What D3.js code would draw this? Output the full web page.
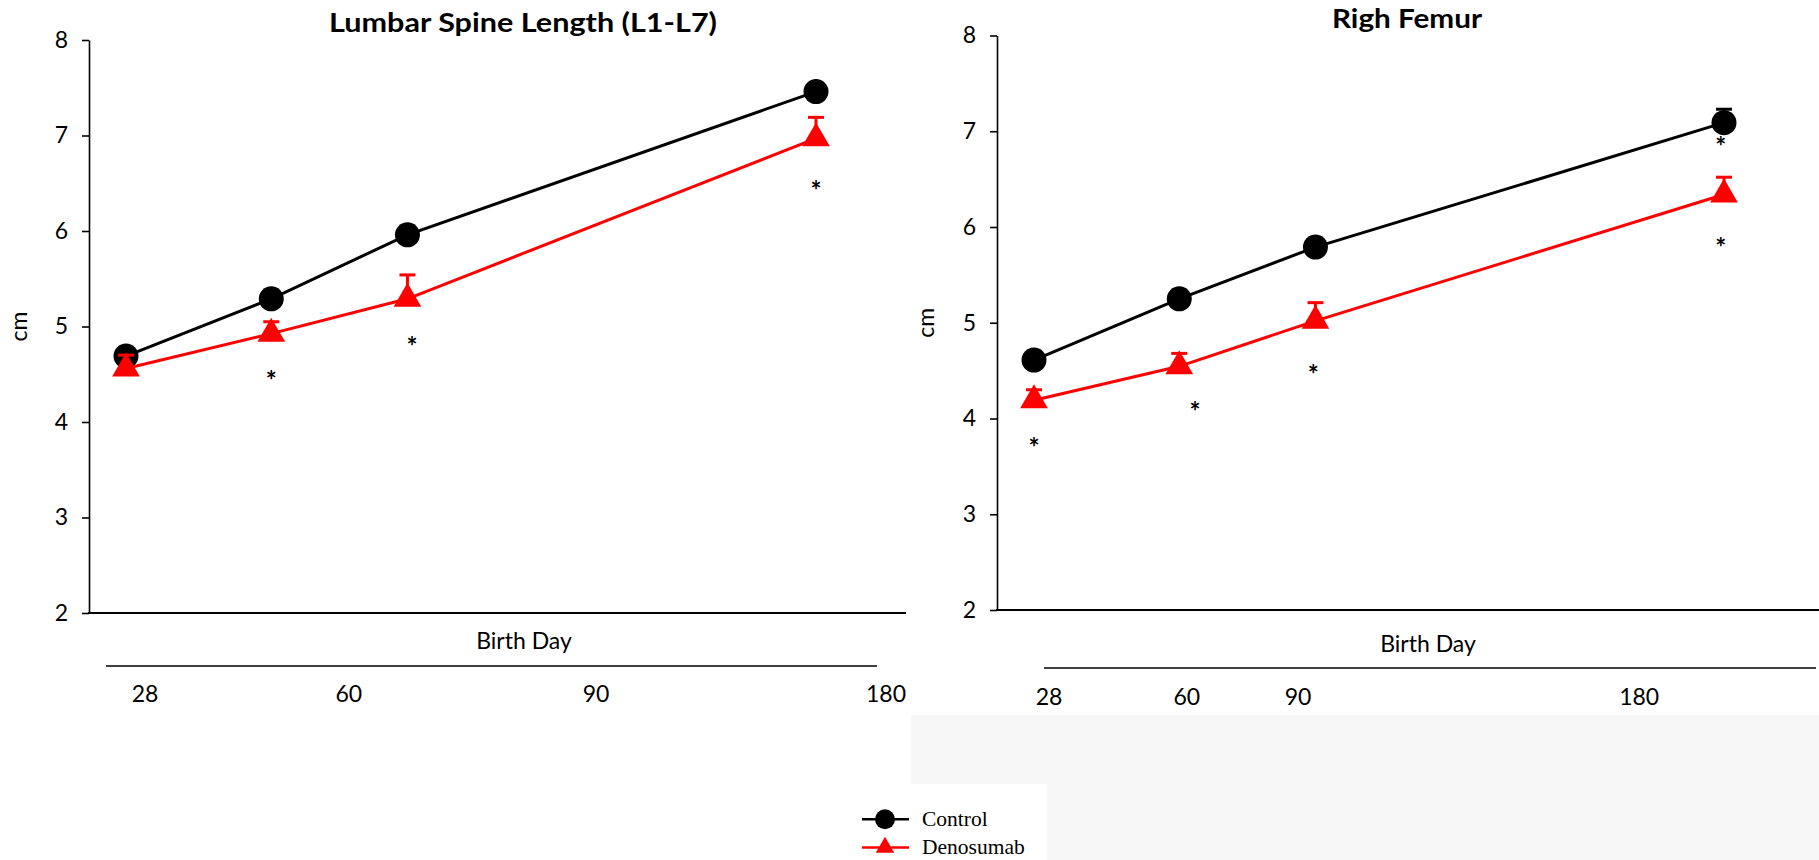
<!DOCTYPE html>
<html><head><meta charset="utf-8">
<script src="https://cdn.jsdelivr.net/npm/d3@7"></script>
<style>body{margin:0;background:#fff}svg{display:block}</style>
</head><body><svg id="c" width="1819" height="860"></svg>
<script>
// ---------- data ----------
const days = [28, 60, 90, 180];
const dayLabels = ["28", "60", "90", "180"];
const yTicks = [2, 3, 4, 5, 6, 7, 8];
const seriesNames = ["Control", "Denosumab"];

const spineTitle = "Lumbar Spine Length (L1-L7)";
const spineControl = [4.69, 5.29, 5.96, 7.46];
const spineControlSE = [0.05, 0.05, 0.05, 0.05];
const spineDeno = [4.56, 4.925, 5.29, 6.97];
const spineDenoSE = [0.14, 0.125, 0.25, 0.22];
const spineStarDays = [60, 91, 180];
const spineStarValues = [4.49, 4.85, 6.48];

const femurTitle = "Righ Femur";
const femurControl = [4.61, 5.25, 5.79, 7.09];
const femurControlSE = [0.05, 0.05, 0.05, 0.14];
const femurDeno = [4.19, 4.545, 5.02, 6.34];
const femurDenoSE = [0.11, 0.135, 0.19, 0.18];
const femurStarDays = [28, 63.5, 89.5, 179.3, 179.3];
const femurStarValues = [3.75, 4.13, 4.52, 6.90, 5.84];

// ---------- drawing ----------
const svg = d3.select("#c");
const SANS = "Lato, 'Open Sans', sans-serif";
const SERIF = "'Liberation Serif', 'Times New Roman', serif";
const RED = "#ff0000";

// background panel and legend box
svg.append("rect").attr("x", 911).attr("y", 715).attr("width", 908).attr("height", 145).attr("fill", "#f7f7f7");
svg.append("rect").attr("x", 911).attr("y", 784).attr("width", 136).attr("height", 76).attr("fill", "#fff");

function panel(cfg) {
  const g = svg.append("g");
  const y = d3.scaleLinear().domain([2, 8]).range([cfg.yBottom, cfg.yTop]);
  const x = d3.scaleLinear().domain([28, 180]).range([cfg.axisX + 37, cfg.axisX + 727]);

  // title
  g.append("text").attr("x", cfg.titleX).attr("y", cfg.titleY)
    .attr("text-anchor", "middle").attr("font-family", SANS).attr("font-weight", "bold")
    .attr("font-size", 26.5).attr("fill", "#000")
    .attr("textLength", cfg.titleW).attr("lengthAdjust", "spacingAndGlyphs").text(cfg.title);

  // y axis
  const ya = g.append("g").attr("transform", `translate(${cfg.axisX},0)`)
    .call(d3.axisLeft(y).tickValues(yTicks).tickFormat(d3.format("d")).tickSize(7).tickSizeOuter(0).tickPadding(14));
  ya.selectAll("path,line").attr("stroke", "#000").attr("stroke-width", 1.6);
  ya.selectAll("text").attr("font-family", SANS).attr("font-size", 23).attr("fill", "#000");

  // bottom axis line
  g.append("line").attr("x1", cfg.axisX - 1).attr("x2", cfg.axisX + cfg.width)
    .attr("y1", y(2)).attr("y2", y(2)).attr("stroke", "#000").attr("stroke-width", 2.2);

  // y label
  g.append("text").attr("transform", `translate(${cfg.axisX - cfg.cmOffset},${(cfg.yTop + cfg.yBottom) / 2}) rotate(-90)`)
    .attr("text-anchor", "middle").attr("dy", "0.35em").attr("font-family", SANS).attr("font-size", 23).text("cm");

  // category axis below
  g.append("text").attr("x", cfg.bdX).attr("y", y(2) + cfg.bdDy)
    .attr("text-anchor", "middle").attr("font-family", SANS).attr("font-size", 23).text("Birth Day");
  const ly = y(2) + cfg.lineDy;
  g.append("line").attr("x1", cfg.catX0).attr("x2", cfg.catX0 + cfg.catW)
    .attr("y1", ly).attr("y2", ly).attr("stroke", "#000").attr("stroke-width", 1.6);
  const cat = d3.scaleOrdinal().domain(dayLabels).range(cfg.catFrac.map(f => cfg.catX0 + f * cfg.catW));
  g.selectAll("text.cat").data(dayLabels).join("text").attr("class", "cat")
    .attr("x", d => cat(d)).attr("y", y(2) + cfg.tickDy).attr("text-anchor", "middle")
    .attr("font-family", SANS).attr("font-size", 23).text(d => d);

  const line = d3.line().x((d, i) => x(days[i])).y(d => y(d));

  function series(vals, se, color, marker) {
    const s = g.append("g");
    s.append("path").datum(vals).attr("d", line).attr("fill", "none").attr("stroke", color).attr("stroke-width", 3);
    const eb = s.selectAll("g.eb").data(vals).join("g");
    eb.append("line").attr("x1", (d, i) => x(days[i])).attr("x2", (d, i) => x(days[i]))
      .attr("y1", d => y(d)).attr("y2", (d, i) => y(d + se[i])).attr("stroke", color).attr("stroke-width", 3);
    eb.append("line").attr("x1", (d, i) => x(days[i]) - 8).attr("x2", (d, i) => x(days[i]) + 8)
      .attr("y1", (d, i) => y(d + se[i])).attr("y2", (d, i) => y(d + se[i])).attr("stroke", color).attr("stroke-width", 3);
    if (marker === "circle") {
      s.selectAll("circle").data(vals).join("circle")
        .attr("cx", (d, i) => x(days[i])).attr("cy", d => y(d)).attr("r", 12.5).attr("fill", color);
    } else {
      s.selectAll("path.m").data(vals).join("path").attr("class", "m")
        .attr("d", d3.symbol(d3.symbolTriangle, 332))
        .attr("transform", (d, i) => `translate(${x(days[i])},${y(d)})`).attr("fill", color);
    }
  }
  series(cfg.control, cfg.controlSE, "#000", "circle");
  series(cfg.deno, cfg.denoSE, RED, "triangle");

  // significance stars
  g.selectAll("text.star").data(cfg.starDays).join("text").attr("class", "star")
    .attr("x", d => x(d)).attr("y", (d, i) => y(cfg.starValues[i]) + 15)
    .attr("text-anchor", "middle").attr("font-family", SANS).attr("font-weight", "bold")
    .attr("font-size", 26).text("*");
}

panel({
  title: spineTitle, titleX: 523, titleY: 32, titleW: 388,
  axisX: 89, yTop: 40, yBottom: 613, width: 817, cmOffset: 70,
  bdX: 524, bdDy: 36, lineDy: 53, tickDy: 89,
  catX0: 106, catW: 771, catFrac: [0.0506, 0.315, 0.6355, 1.0117],
  control: spineControl, controlSE: spineControlSE, deno: spineDeno, denoSE: spineDenoSE,
  starDays: spineStarDays, starValues: spineStarValues
});
panel({
  title: femurTitle, titleX: 1407, titleY: 28, titleW: 150,
  axisX: 997, yTop: 35.5, yBottom: 610, width: 822, cmOffset: 71,
  bdX: 1428, bdDy: 42, lineDy: 58, tickDy: 95,
  catX0: 1044, catW: 772, catFrac: [0.0065, 0.185, 0.329, 0.771],
  control: femurControl, controlSE: femurControlSE, deno: femurDeno, denoSE: femurDenoSE,
  starDays: femurStarDays, starValues: femurStarValues
});

// legend
const lg = svg.append("g");
const legendColors = ["#000", RED];
seriesNames.forEach((n, i) => {
  const cy = [819.3, 847.5][i];
  lg.append("line").attr("x1", 862).attr("x2", 909).attr("y1", cy).attr("y2", cy)
    .attr("stroke", legendColors[i]).attr("stroke-width", 2.5);
  if (i === 0) lg.append("circle").attr("cx", 885).attr("cy", cy).attr("r", 10).attr("fill", legendColors[i]);
  else lg.append("path").attr("d", d3.symbol(d3.symbolTriangle, 148)).attr("transform", `translate(885,${cy})`).attr("fill", legendColors[i]);
  lg.append("text").attr("x", 922).attr("y", [826, 854.3][i]).attr("font-family", SERIF).attr("font-size", 21.5).text(n);
});
</script></body></html>
